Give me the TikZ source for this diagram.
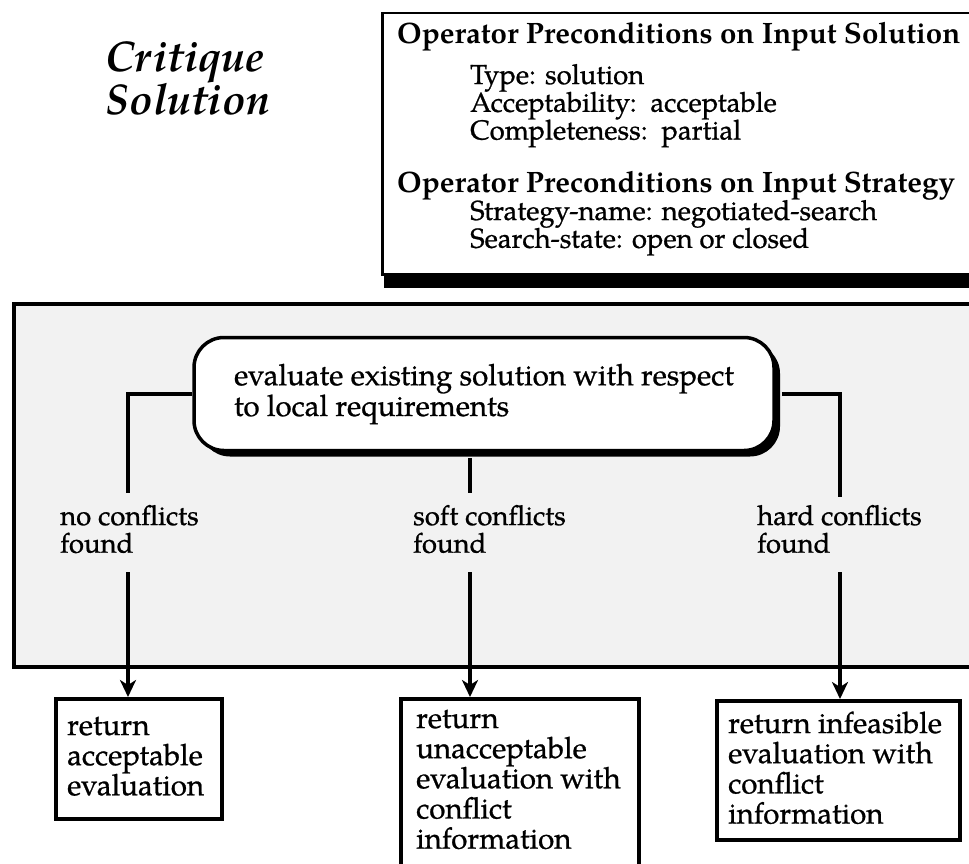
\documentclass[tikz,border=0pt]{standalone}
\usepackage{fontspec}
\setmainfont{texgyrepagella}[Extension=.otf, UprightFont=*-regular, BoldFont=*-bold, ItalicFont=*-italic, BoldItalicFont=*-bolditalic, UprightFeatures={FakeBold=0.8}]
\usetikzlibrary{arrows.meta,shadows,calc}
% left-aligned stack of lines whose baseline is the first line
\newcommand{\mylines}[1]{\begin{tabular}[t]{@{}l@{}}#1\end{tabular}}

\begin{document}
\begin{tikzpicture}[x=1pt,y=-1pt,
  txt/.style={inner sep=0pt, anchor=base west, font=\fontsize{29.5}{29}\selectfont},
  lab/.style={inner sep=0pt, anchor=base west, font=\fontsize{27.5}{25.5}\selectfont},
  head/.style={inner sep=0pt, anchor=base west, font=\fontsize{29.5}{29}\selectfont\bfseries},
  item/.style={inner sep=0pt, anchor=base west, font=\fontsize{27.5}{26}\selectfont},
  conn/.style={line width=3.2pt},
  arr/.style={conn, -{Stealth[length=17pt,width=16pt,inset=5pt]}},
  outbox/.style={draw, line width=3.8pt, rectangle, inner sep=0pt, anchor=north west},
  evalnode/.style={draw, line width=3.5pt, fill=white, rounded corners=30pt,
    inner sep=0pt, align=left, minimum width=580pt, minimum height=113pt,
    font=\fontsize{29.5}{29}\selectfont,
    drop shadow={shadow xshift=6pt, shadow yshift=-6pt, fill=black, opacity=1}}
]
\useasboundingbox (0,0) rectangle (969,864);
\clip (0,0) rectangle (969,864);

% operator name
\node[inner sep=0pt, anchor=base west, font=\fontsize{43}{36}\selectfont\bfseries\itshape]
  (title) at (105,72) {\mylines{Critique\\Solution}};

% preconditions panel with its heavy bottom shadow
\fill (384,272) rectangle (1000,288);
\node[draw, line width=2.5pt, fill=white, anchor=north west, inner sep=0pt,
  minimum width=640pt, minimum height=261pt] (pre) at (381,12) {};
\node[head] (h1) at (397,44) {Operator Preconditions on Input Solution};
\node[item] (i1) at (470,84) {\mylines{Type: solution\\Acceptability:\ \ acceptable\\Completeness:\ \ partial}};
\node[head] (h2) at (397,192) {Operator Preconditions on Input Strategy};
\node[item] (i2) at (470,220) {\mylines{Strategy-name: negotiated-search\\Search-state: open or closed}};

% shaded operator body
\node[draw, line width=4pt, fill=black!5, anchor=north west, inner sep=0pt,
  minimum width=1000pt, minimum height=363pt] (region) at (12,302) {};

\node[evalnode] (ev) at (484,394) {evaluate existing solution with respect\\to local requirements};

% branch ends above and below the outcome labels
\coordinate (a1) at (128,493);
\coordinate (a2) at (470,493);
\coordinate (a3) at (840,497);
\coordinate (b1) at (128,572);
\coordinate (b2) at (470,572);
\coordinate (b3) at (840,572);

\draw[conn] (ev.west) -| (a1);
\draw[conn] ($(a2 |- ev.south)+(0,6)$) -- (a2);
\draw[conn] ($(ev.east)+(6,0)$) -| (a3);

\node[lab] (l1) at (60,525) {\mylines{no conflicts\\found}};
\node[lab] (l2) at (413,525) {\mylines{soft conflicts\\found}};
\node[lab] (l3) at (757,525) {\mylines{hard conflicts\\found}};

% results
\node[outbox, minimum width=166pt, minimum height=120pt] (r1) at (54,697) {};
\node[txt] (t1) at (67,735) {\mylines{return\\acceptable\\evaluation}};
\node[outbox, minimum width=238pt, minimum height=200pt] (r2) at (399,697) {};
\node[txt] (t2) at (416,728) {\mylines{return\\unacceptable\\evaluation with\\conflict\\information}};
\node[outbox, minimum width=243pt, minimum height=139pt] (r3) at (715,699) {};
\node[txt] (t3) at (728,733) {\mylines{return infeasible\\evaluation with\\conflict\\information}};

\draw[arr] (b1) -- (b1 |- r1.north);
\draw[arr] (b2) -- (b2 |- r2.north);
\draw[arr] (b3) -- (b3 |- r3.north);
\end{tikzpicture}
\end{document}
